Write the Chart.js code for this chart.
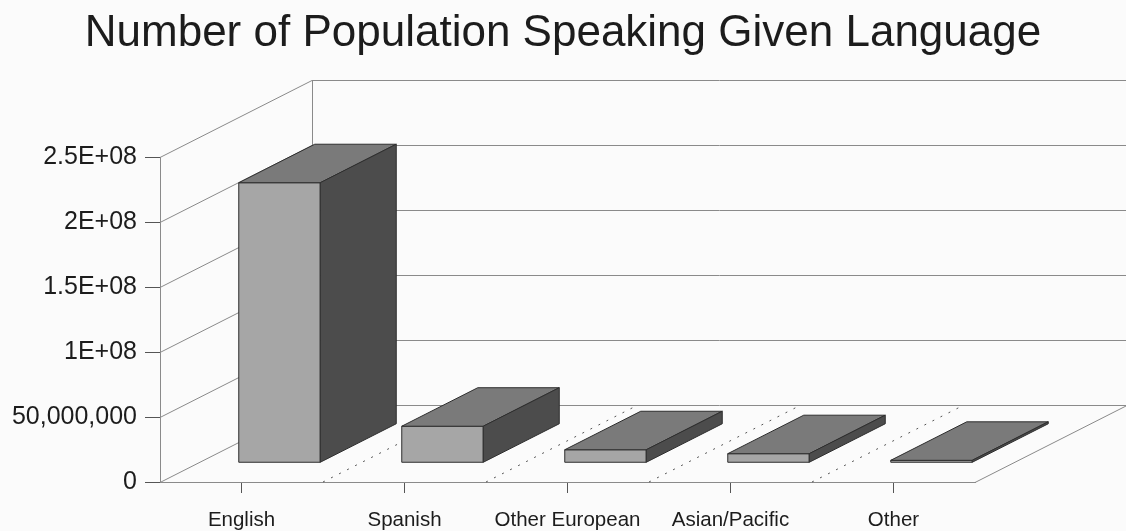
<!DOCTYPE html>
<html>
<head>
<meta charset="utf-8">
<script src="https://cdn.jsdelivr.net/npm/chart.js@4.4.1/dist/chart.umd.min.js"></script>
<style>
  html, body { margin: 0; padding: 0; background: #fbfbfb; }
  #wrap { width: 1126px; height: 531px; }
</style>
</head>
<body>
<div id="wrap"><canvas id="chart"></canvas></div>
<script>
// 数据
const categories = ['English', 'Spanish', 'Other European', 'Asian/Pacific', 'Other'];
const speakers = [215400000, 28100000, 10000000, 6960000, 1870000];
const yTickLabels = ['0', '50,000,000', '1E+08', '1.5E+08', '2E+08', '2.5E+08'];

// 3D 深度偏移
const DEPTH_X = 152;
const DEPTH_Y = -77;
const BAR_FRONT = 0.25;
const BAR_BACK = 0.75;

const lineColor = '#8a8a8a';
const fontFamily = '"Liberation Sans", Arial, sans-serif';

// 画墙面、地面和网格线
const wallsPlugin = {
  id: 'walls',
  beforeDatasetsDraw(chart) {
    const { ctx, chartArea, scales } = chart;
    const y = scales.y;
    const left = chartArea.left, right = chartArea.right, bottom = chartArea.bottom;
    ctx.save();
    ctx.strokeStyle = lineColor;
    ctx.lineWidth = 1;

    // 侧墙斜线 + 后墙横线
    y.ticks.forEach(t => {
      const py = Math.round(y.getPixelForValue(t.value)) + 0.5;
      ctx.beginPath();
      ctx.moveTo(left, py);
      ctx.lineTo(left + DEPTH_X, py + DEPTH_Y);
      ctx.lineTo(right + DEPTH_X, py + DEPTH_Y);
      ctx.stroke();
    });

    // 后墙左边线
    const topY = Math.round(y.getPixelForValue(y.max)) + 0.5;
    ctx.beginPath();
    ctx.moveTo(left + DEPTH_X + 0.5, topY + DEPTH_Y);
    ctx.lineTo(left + DEPTH_X + 0.5, bottom + DEPTH_Y);
    ctx.stroke();

    // 地面右边线
    ctx.beginPath();
    ctx.moveTo(right, bottom + 0.5);
    ctx.lineTo(right + DEPTH_X, bottom + 0.5 + DEPTH_Y);
    ctx.stroke();

    // 地面上的虚线（类别分隔）
    const catW = (right - left) / categories.length;
    ctx.strokeStyle = '#555';
    ctx.setLineDash([2, 7]);
    for (let k = 1; k < categories.length; k++) {
      const px = left + catW * k;
      ctx.beginPath();
      ctx.moveTo(px, bottom);
      ctx.lineTo(px + DEPTH_X, bottom + DEPTH_Y);
      ctx.stroke();
    }
    ctx.restore();
  },

  // 画 3D 柱子
  afterDatasetsDraw(chart) {
    const { ctx } = chart;
    const meta = chart.getDatasetMeta(0);
    const fdx = DEPTH_X * BAR_FRONT, fdy = DEPTH_Y * BAR_FRONT;
    const bdx = DEPTH_X * BAR_BACK, bdy = DEPTH_Y * BAR_BACK;
    ctx.save();
    ctx.lineWidth = 1;
    ctx.strokeStyle = '#2e2e2e';
    meta.data.forEach(bar => {
      const { x, y, base, width } = bar.getProps(['x', 'y', 'base', 'width'], true);
      const xl = x - width / 2, xr = x + width / 2;

      const poly = (pts, fill) => {
        ctx.beginPath();
        ctx.moveTo(pts[0][0], pts[0][1]);
        for (let i = 1; i < pts.length; i++) ctx.lineTo(pts[i][0], pts[i][1]);
        ctx.closePath();
        ctx.fillStyle = fill;
        ctx.fill();
        ctx.stroke();
      };

      // 正面
      poly([[xl + fdx, y + fdy], [xr + fdx, y + fdy], [xr + fdx, base + fdy], [xl + fdx, base + fdy]], '#a6a6a6');
      // 顶面
      poly([[xl + fdx, y + fdy], [xr + fdx, y + fdy], [xr + bdx, y + bdy], [xl + bdx, y + bdy]], '#7a7a7a');
      // 侧面
      poly([[xr + fdx, y + fdy], [xr + bdx, y + bdy], [xr + bdx, base + bdy], [xr + fdx, base + fdy]], '#4c4c4c');
    });
    ctx.restore();
  }
};

const bgPlugin = {
  id: 'bg',
  beforeDraw(chart) {
    const { ctx } = chart;
    ctx.save();
    ctx.fillStyle = '#fbfbfb';
    ctx.fillRect(0, 0, chart.width, chart.height);
    ctx.restore();
  }
};

const ctx = document.getElementById('chart').getContext('2d');
window.langChart = new Chart(ctx, {
  type: 'bar',
  data: {
    labels: categories,
    datasets: [{
      label: 'Speakers',
      data: speakers,
      backgroundColor: 'rgba(0,0,0,0)',
      borderWidth: 0,
      barPercentage: 0.5,
      categoryPercentage: 1
    }]
  },
  options: {
    responsive: true,
    maintainAspectRatio: false,
    animation: false,
    layout: { padding: 0 },
    plugins: {
      legend: { display: false },
      tooltip: { enabled: false },
      title: {
        display: true,
        text: 'Number of Population Speaking Given Language',
        color: '#1c1c1c',
        font: { family: fontFamily, size: 44, weight: 'normal' },
        padding: { top: 7, bottom: 97.2 }
      }
    },
    scales: {
      x: {
        offset: true,
        grid: { offset: false, drawOnChartArea: false, drawTicks: true, tickLength: 11, color: '#555' },
        border: { display: true, color: lineColor },
        ticks: {
          color: '#1c1c1c',
          padding: 15,
          maxRotation: 0,
          autoSkip: false,
          font: { family: fontFamily, size: 20.5 }
        },
        afterFit(scale) { scale.height = 49; }
      },
      y: {
        min: 0,
        max: 250000000,
        grid: { drawOnChartArea: false, drawTicks: true, tickLength: 15, color: '#555' },
        border: { display: true, color: lineColor },
        ticks: {
          stepSize: 50000000,
          color: '#1c1c1c',
          padding: 8,
          font: { family: fontFamily, size: 25 },
          callback: (value, index) => yTickLabels[index]
        },
        afterFit(scale) { scale.width = 160; }
      },
      // 右侧留白，让标题在整幅画面居中
      yRight: {
        position: 'right',
        display: true,
        grid: { display: false },
        border: { display: false },
        ticks: { display: false },
        afterFit(scale) { scale.width = 151; }
      }
    }
  },
  plugins: [bgPlugin, wallsPlugin]
});
</script>
</body>
</html>
